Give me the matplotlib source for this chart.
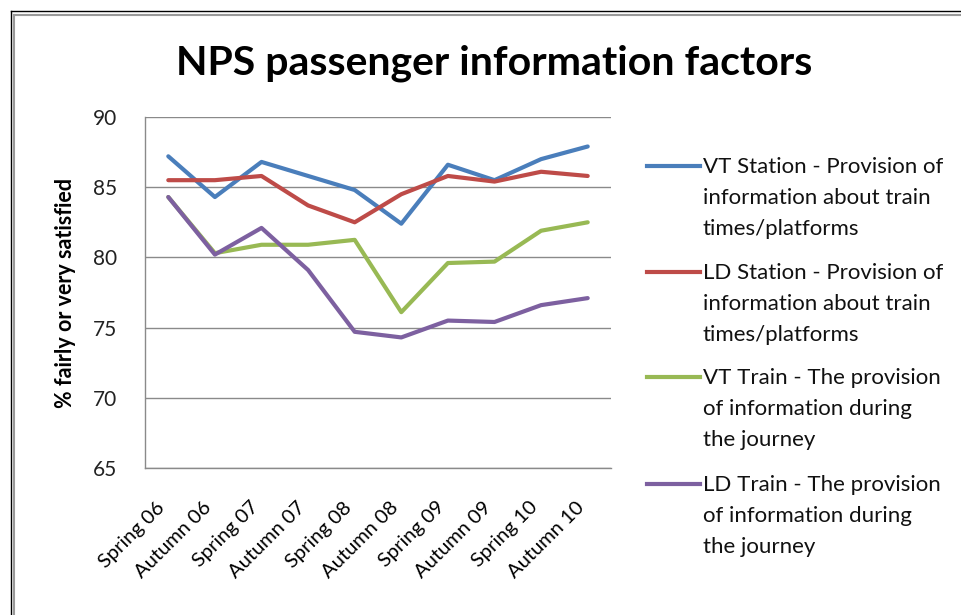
import matplotlib.pyplot as plt
from matplotlib.lines import Line2D

plt.rcParams['font.family'] = ['Lato', 'DejaVu Sans']

# survey waves
waves = ['Spring 06', 'Autumn 06', 'Spring 07', 'Autumn 07', 'Spring 08',
         'Autumn 08', 'Spring 09', 'Autumn 09', 'Spring 10', 'Autumn 10']

# % fairly or very satisfied
vt_station = [87.2, 84.3, 86.8, 85.8, 84.8, 82.4, 86.6, 85.5, 87.0, 87.9]
ld_station = [85.5, 85.5, 85.8, 83.7, 82.5, 84.5, 85.8, 85.4, 86.1, 85.8]
vt_train = [84.3, 80.3, 80.9, 80.9, 81.25, 76.1, 79.6, 79.7, 81.9, 82.5]
ld_train = [84.3, 80.2, 82.1, 79.1, 74.7, 74.3, 75.5, 75.4, 76.6, 77.1]

series_labels = [
    'VT Station - Provision of\ninformation about train\ntimes/platforms',
    'LD Station - Provision of\ninformation about train\ntimes/platforms',
    'VT Train - The provision\nof information during\nthe journey',
    'LD Train - The provision\nof information during\nthe journey',
]
colors = ['#4A7EBB', '#BE4B48', '#98B954', '#7D60A0']
y_ticks = [65, 70, 75, 80, 85, 90]


def main():
    W, H = 962, 615
    fig = plt.figure(figsize=(W / 100, H / 100), dpi=100)

    # outer chart frame (left and top edges visible)
    fig.add_artist(Line2D([11 / W, 11 / W], [0, 1 - 11 / H], color='black', lw=1.0))
    fig.add_artist(Line2D([11 / W, 1], [1 - 11 / H, 1 - 11 / H], color='black', lw=1.0))
    fig.add_artist(Line2D([14.5 / W, 14.5 / W], [0, 1 - 14.5 / H], color='#9a9a9a', lw=1.5))
    fig.add_artist(Line2D([14.5 / W, 1], [1 - 14.5 / H, 1 - 14.5 / H], color='#9a9a9a', lw=1.5))

    left, right, top, bottom = 145, 611, 117, 468
    ax = fig.add_axes([left / W, 1 - bottom / H, (right - left) / W, (bottom - top) / H])

    x = list(range(len(waves)))
    all_series = [vt_station, ld_station, vt_train, ld_train]
    for vals, c in zip(all_series, colors):
        ax.plot(x, vals, color=c, lw=3.0, solid_joinstyle='round', solid_capstyle='round')

    ax.set_xlim(-0.5, len(waves) - 0.5)
    ax.set_ylim(65, 90)
    ax.set_yticks(y_ticks)
    ax.set_xticks(x)
    ax.set_xticklabels(waves, rotation=45, ha='right', va='top', fontsize=14.5)
    ax.tick_params(axis='x', length=0, pad=22)
    ax.tick_params(axis='y', length=0, pad=20, labelsize=15, labelcolor='#222222')
    ax.grid(axis='y', color='#8a8a8a', lw=1.0)
    ax.set_axisbelow(True)
    for s in ['top', 'right']:
        ax.spines[s].set_visible(False)
    for s in ['left', 'bottom']:
        ax.spines[s].set_color('#8a8a8a')
        ax.spines[s].set_linewidth(1.0)

    ax.set_ylabel('% fairly or very satisfied', fontsize=15.5, fontweight='bold', labelpad=12)

    fig.text(494 / W, 1 - 63 / H, 'NPS passenger information factors',
             ha='center', va='center', fontsize=29.5, fontweight='bold')

    # legend drawn by hand, one entry per series
    entry_y = [166, 272, 377, 484]
    for ey, c, lab in zip(entry_y, colors, series_labels):
        fig.add_artist(Line2D([647 / W, 700 / W], [1 - ey / H, 1 - ey / H], color=c, lw=3.0))
        fig.text(703 / W, 1 - (ey - 9) / H, lab, ha='left', va='top',
                 fontsize=16, linespacing=1.7, color='#111111')

    fig.savefig('out.png', dpi=100)


if __name__ == '__main__':
    main()
